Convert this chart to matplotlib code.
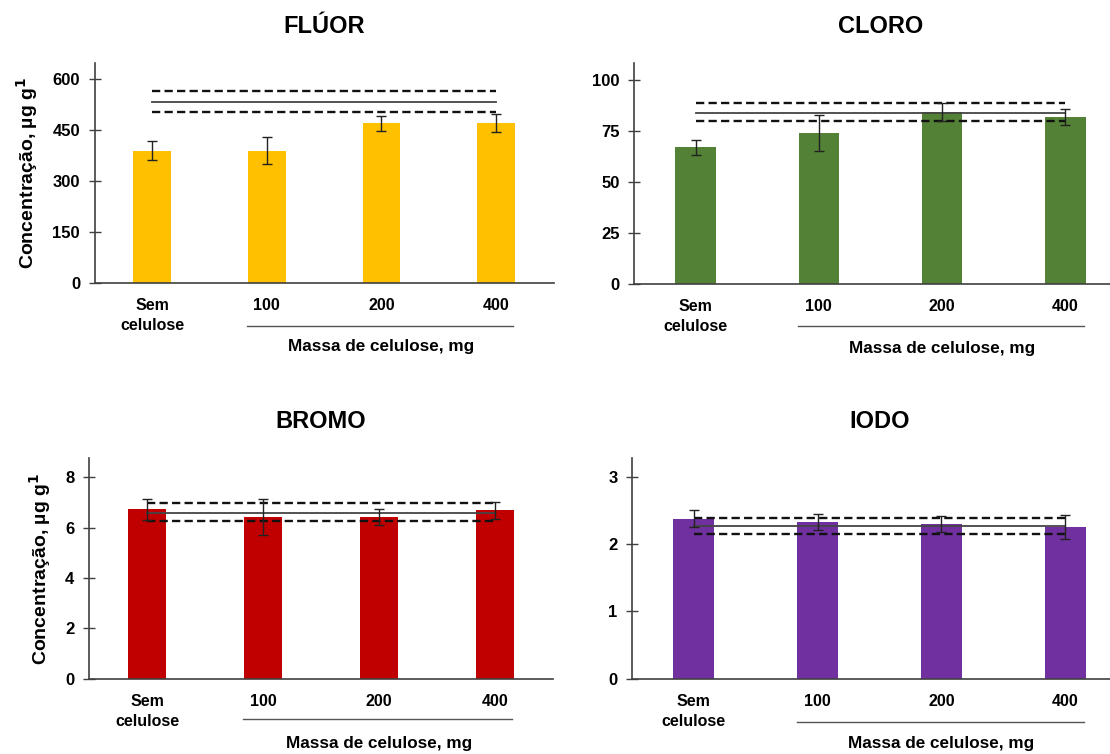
import matplotlib
matplotlib.use("Agg")
import matplotlib.pyplot as plt
import matplotlib.transforms as mtransforms

plt.rcParams['font.family'] = ['Liberation Sans', 'DejaVu Sans']
plt.rcParams['font.weight'] = 'bold'

categories = ["Sem\ncelulose", "100", "200", "400"]

fluor_vals = [389, 389, 470, 470]
fluor_err = [29, 40, 22, 26]
fluor_ref = [502, 533, 564]   # lower, mean, upper
fluor_ticks = [0, 150, 300, 450, 600]

cloro_vals = [66.8, 73.9, 84.2, 81.7]
cloro_err = [3.5, 9.0, 4.2, 4.1]
cloro_ref = [79.6, 83.7, 88.4]
cloro_ticks = [0, 25, 50, 75, 100]

bromo_vals = [6.73, 6.43, 6.43, 6.69]
bromo_err = [0.42, 0.70, 0.32, 0.35]
bromo_ref = [6.25, 6.60, 6.97]
bromo_ticks = [0, 2, 4, 6, 8]

iodo_vals = [2.38, 2.33, 2.30, 2.26]
iodo_err = [0.13, 0.12, 0.12, 0.18]
iodo_ref = [2.15, 2.27, 2.39]
iodo_ticks = [0, 1, 2, 3]

titles = ["FLÚOR", "CLORO", "BROMO", "IODO"]
colors = ["#FFC000", "#538135", "#C00000", "#7030A0"]
ylabel = "Concentração, µg g$^{\\mathbf{1}}$"
group_label = "Massa de celulose, mg"

W, H = 1110, 754
fig = plt.figure(figsize=(W / 100, H / 100), dpi=100)

# axes rectangles in pixels: left, right, bottom(y from top), top(y from top)
rects = [
    (94.6, 553.6, 282.7, 63.3),
    (634.0, 1127.0, 284.0, 63.3),
    (89.0, 553.0, 678.7, 458.3),
    (632.0, 1127.0, 678.7, 458.3),
]

panels = [
    (fluor_vals, fluor_err, fluor_ref, fluor_ticks, 1.077),
    (cloro_vals, cloro_err, cloro_ref, cloro_ticks, 1.08),
    (bromo_vals, bromo_err, bromo_ref, bromo_ticks, 1.095),
    (iodo_vals, iodo_err, iodo_ref, iodo_ticks, 1.093),
]

line_y = [-0.197, -0.19, -0.184, -0.195]

xpos = list(range(len(categories)))
spine_col = "#404040"

for i, ((vals, errs, ref, ticks, top_f), (l, r, b, t)) in enumerate(zip(panels, rects)):
    ax = fig.add_axes([l / W, (H - b) / H, (r - l) / W, (b - t) / H])
    ax.bar(xpos, vals, width=0.33, color=colors[i], zorder=2)
    ax.errorbar(xpos, vals, yerr=errs, fmt='none', ecolor='#222222',
                elinewidth=1.0, capsize=3.5, capthick=1.0, zorder=4)
    ax.plot([0, 3], [ref[0], ref[0]], color='#111111', lw=1.7, ls=(0, (3.5, 1.8)), zorder=3)
    ax.plot([0, 3], [ref[1], ref[1]], color='#444444', lw=1.3, ls='-', zorder=3)
    ax.plot([0, 3], [ref[2], ref[2]], color='#111111', lw=1.7, ls=(0, (3.5, 1.8)), zorder=3)

    ax.set_xlim(-0.5, 3.5)
    ax.set_ylim(0, ticks[-1] * top_f)
    ax.set_yticks(ticks)
    ax.set_yticklabels([str(v) for v in ticks], fontsize=12, fontweight='bold')
    ax.set_xticks(xpos)
    ax.set_xticklabels(categories, fontsize=11.5, fontweight='bold', linespacing=1.4)
    ax.tick_params(axis='x', length=0, pad=11)
    ax.tick_params(axis='y', direction='inout', length=9, width=1, color=spine_col, pad=6)
    for s in ['top', 'right']:
        ax.spines[s].set_visible(False)
    for s in ['left', 'bottom']:
        ax.spines[s].set_color(spine_col)
        ax.spines[s].set_linewidth(1.2)

    ax.set_title(titles[i], fontsize=17, fontweight='bold', pad=22)

    trans = mtransforms.blended_transform_factory(ax.transData, ax.transAxes)
    ax.plot([0.83, 3.15], [line_y[i], line_y[i]], color='#555555', lw=1.0,
            transform=trans, clip_on=False)
    ax.text(2.0, -0.293, group_label, transform=trans, ha='center', va='center',
            fontsize=12.3, fontweight='bold')

    if i % 2 == 0:
        ax.set_ylabel(ylabel, fontsize=14, fontweight='bold', labelpad=9)

fig.savefig("out.png", dpi=100)
